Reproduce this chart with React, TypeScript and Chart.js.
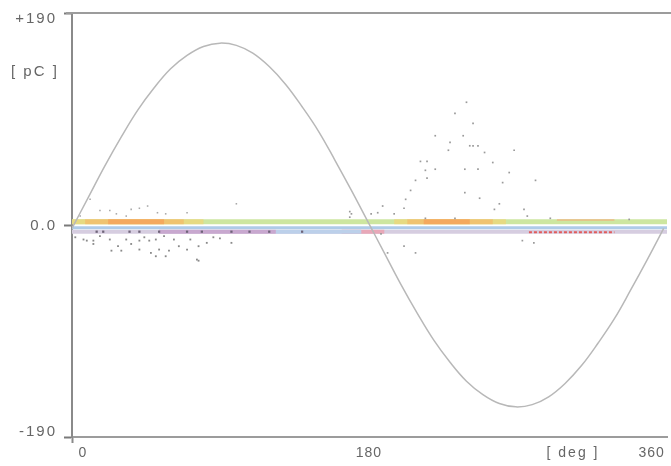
import React, { useEffect, useRef } from "react";
import { Chart, registerables } from "chart.js";

Chart.register(...registerables);

// Reference sine (applied voltage shape), read every 10 deg
const sinePhase = [0, 10, 20, 30, 40, 50, 60, 70, 80, 90, 100, 110, 120, 130, 140, 150, 160, 170, 180, 190, 200, 210, 220, 230, 240, 250, 260, 270, 280, 290, 300, 310, 320, 330, 340, 350, 360];
const sineCharge = [-3, 25, 53, 79, 103, 123, 140, 152, 160, 163, 161, 154, 142, 126, 106, 84, 58, 31, 3, -25, -53, -79, -103, -123, -140, -152, -160, -163, -161, -154, -142, -126, -106, -84, -58, -31, -3];

// Discharge pulses, negative cluster (first half-cycle)
const negPhase = [7, 13, 23, 33, 41, 47, 51, 62, 72, 82, 97, 28, 36, 24, 30, 41, 48, 53, 59, 65, 70, 77, 51, 57, 76, 77, 13, 9, 2, 17, 44, 56, 86, 90];
const negCharge = [-13, -14, -13, -13, -14, -14, -13, -13, -13, -16, -16, -19, -17, -23, -23, -22, -25, -22, -23, -19, -22, -19, -28, -28, -31, -32, -17, -14, -11, -10, -11, -10, -11, -12];

// Small positive pulses in first half-cycle
const lowPosPhase = [11, 17, 23, 27, 33, 36, 41, 46, 52, 57, 70, 100, 5];
const lowPosCharge = [23, 13, 13, 10, 8, 14, 15, 17, 11, 10, 11, 19, 8];

// Positive cluster (second half-cycle)
const posPhase = [240, 233, 244, 221, 238, 230, 242, 244, 247, 229, 251, 269, 212, 216, 256, 221, 215, 239, 247, 266, 216, 282, 209, 239, 206, 262, 203, 248, 260, 257, 189, 186, 182, 170, 196, 202, 275, 277, 215, 233, 291, 339, 169, 169];
const posCharge = [110, 100, 91, 80, 80, 74, 71, 71, 71, 67, 65, 67, 57, 57, 56, 50, 49, 50, 50, 47, 42, 40, 40, 29, 31, 38, 23, 24, 19, 14, 17, 11, 10, 10, 10, 15, 14, 8, 6, 6, 6, 5, 7, 12];

// Negative pulses in second half-cycle
const lateNegPhase = [188, 202, 209, 192, 274, 281];
const lateNegCharge = [-8, -19, -25, -25, -14, -16];

// Dense dark pulses inside the lower band
const darkPhase = [15, 19, 35, 41, 53, 70, 79, 97, 108, 120, 140];
const darkCharge = [-6, -6, -6, -6, -6, -6, -6, -6, -6, -6, -6];

// Density bands around zero (charge levels and phase spans)
const bandLevels = [3, -2.5, -6];
const yellowSpans = [[0, 80], [196, 264]];
const lightOrangeSpans = [[8, 68], [204, 256]];
const orangeSpans = [[22, 56], [214, 242]];
const faintOrangeSpans = [[295, 330]];
const purpleSpans = [[53, 124]];
const lightBlueSpans = [[124, 176]];
const pinkSpans = [[164, 190]];
const redSpans = [[278, 330]];

const xTicks = [0, 180, 360];
const yTicks = [-190, 0, 190];
const yTickLabels = ["-190", "0.0", "+190"];

const pts = (xs: number[], ys: number[]) => xs.map((x, i) => ({ x, y: ys[i] }));

export default function App() {
  const ref = useRef<HTMLCanvasElement>(null);

  useEffect(() => {
    if (!ref.current) return;
    const span = (s: number[], level: number, color: string, width: number, order: number, dash: number[] = []) => ({
      data: [{ x: s[0], y: level }, { x: s[1], y: level }],
      showLine: true,
      borderColor: color,
      borderWidth: width,
      borderDash: dash,
      borderCapStyle: "butt" as const,
      pointRadius: 0,
      order,
    });
    const scatter = (xs: number[], ys: number[], color: string, r: number, order: number) => ({
      data: pts(xs, ys),
      showLine: false,
      pointStyle: "rect" as const,
      pointRadius: r,
      backgroundColor: color,
      borderColor: color,
      borderWidth: 0,
      order,
    });

    const datasets: any[] = [
      {
        data: pts(sinePhase, sineCharge),
        showLine: true,
        borderColor: "#b8b8b8",
        borderWidth: 1.5,
        tension: 0.4,
        pointRadius: 0,
        order: 1,
      },
      scatter(negPhase, negCharge, "#8a8a8a", 1.3, 2),
      scatter(lowPosPhase, lowPosCharge, "#a8a8a8", 1.1, 2),
      scatter(posPhase, posCharge, "#9a9a9a", 1.2, 2),
      scatter(lateNegPhase, lateNegCharge, "#9a9a9a", 1.2, 2),
      scatter(darkPhase, darkCharge, "#6e6478", 1.6, 3),
      span([0, 362], bandLevels[0], "#cde6a0", 5, 10),
      span([0, 362], bandLevels[1], "#aecbe8", 3, 10),
      span([0, 362], bandLevels[2], "#d6cde0", 4, 11),
      ...yellowSpans.map((s) => span(s, bandLevels[0], "rgba(238,214,120,0.75)", 5, 9)),
      ...lightOrangeSpans.map((s) => span(s, bandLevels[0], "rgba(245,180,100,0.6)", 5, 8)),
      ...orangeSpans.map((s) => span(s, bandLevels[0], "rgba(245,160,88,0.75)", 5, 7)),
      ...faintOrangeSpans.map((s) => span(s, bandLevels[0] + 1.5, "rgba(240,176,120,0.8)", 1.5, 7)),
      ...purpleSpans.map((s) => span(s, bandLevels[2], "#c8a8cf", 4, 8)),
      ...lightBlueSpans.map((s) => span(s, bandLevels[2], "#bcd0ea", 4, 8)),
      ...pinkSpans.map((s) => span(s, bandLevels[2], "#e8a8b8", 4, 8)),
      ...redSpans.map((s) => span(s, bandLevels[2] - 0.5, "#e05c5c", 2, 6, [3, 2])),
    ];

    const textPlugin = {
      id: "prpdText",
      afterDraw(chart: any) {
        const { ctx, chartArea } = chart;
        const x = chart.scales.x;
        const y = chart.scales.y;
        ctx.save();
        ctx.strokeStyle = "#9c9c9c";
        ctx.lineWidth = 2;
        ctx.beginPath();
        ctx.moveTo(chartArea.left - 6, chartArea.top);
        ctx.lineTo(chart.width, chartArea.top);
        ctx.stroke();

        ctx.fillStyle = "#666666";
        ctx.textBaseline = "middle";
        ctx.font = '15px "Liberation Sans", Arial, sans-serif';
        (ctx as any).letterSpacing = "2px";
        ctx.textAlign = "right";
        const yOff = [-5, 1, 6];
        yTicks.forEach((v, i) => {
          ctx.fillText(yTickLabels[i], 57, y.getPixelForValue(v) + yOff[i]);
        });
        ctx.textAlign = "left";
        ctx.fillText("[ pC ]", 11, 72);

        ctx.font = '14px "Liberation Sans", Arial, sans-serif';
        (ctx as any).letterSpacing = "1px";
        ctx.textAlign = "center";
        const xOff = [11, 1, -12];
        xTicks.forEach((v, i) => {
          ctx.fillText(String(v), x.getPixelForValue(v) + xOff[i], 453);
        });
        (ctx as any).letterSpacing = "2px";
        ctx.fillText("[ deg ]", 573, 453);
        ctx.restore();
      },
    };

    const chart = new Chart(ref.current, {
      type: "scatter",
      data: { datasets },
      options: {
        animation: false,
        responsive: false,
        layout: { padding: { top: 13, right: 0, left: 0, bottom: 0 } },
        plugins: { legend: { display: false }, tooltip: { enabled: false } },
        scales: {
          x: {
            type: "linear",
            min: 0,
            max: 362,
            afterBuildTicks: (s: any) => {
              s.ticks = xTicks.map((v) => ({ value: v }));
            },
            afterFit: (s: any) => {
              s.height = 29;
            },
            ticks: { display: false },
            grid: {
              drawOnChartArea: false,
              drawTicks: true,
              tickLength: 6,
              tickWidth: 2,
              tickColor: (c: any) => (c.tick && c.tick.value === 0 ? "#8a8a8a" : "rgba(0,0,0,0)"),
            },
            border: { color: "#9c9c9c", width: 2 },
          },
          y: {
            type: "linear",
            min: -190,
            max: 190,
            afterBuildTicks: (s: any) => {
              s.ticks = yTicks.map((v) => ({ value: v }));
            },
            afterFit: (s: any) => {
              s.width = 72;
            },
            ticks: { display: false },
            grid: {
              drawOnChartArea: false,
              drawTicks: true,
              tickLength: 8,
              tickWidth: 2,
              tickColor: "#7a7a7a",
            },
            border: { color: "#8a8a8a", width: 2 },
          },
        },
      },
      plugins: [textPlugin],
    });
    return () => chart.destroy();
  }, []);

  return (
    <div style={{ position: "fixed", left: 0, top: 0, width: 671, height: 466, background: "#fff" }}>
      <canvas ref={ref} width={671} height={466} style={{ display: "block" }} />
    </div>
  );
}
